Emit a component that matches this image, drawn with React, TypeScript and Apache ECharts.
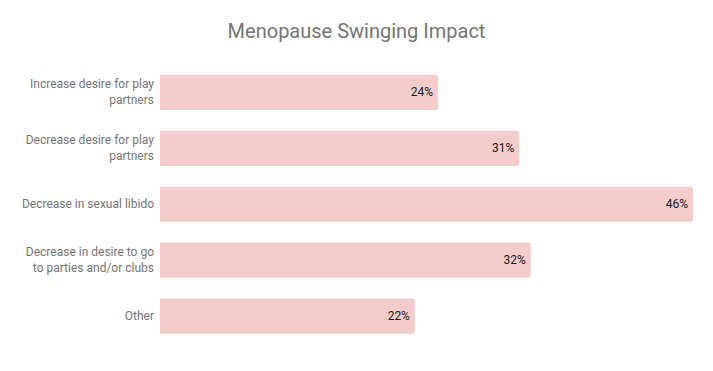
import React, { useEffect, useRef } from "react";
import * as echarts from "echarts";

const title = "Menopause Swinging Impact";
const categories = [
  "Increase desire for play\npartners",
  "Decrease desire for play\npartners",
  "Decrease in sexual libido",
  "Decrease in desire to go\nto parties and/or clubs",
  "Other",
];
const values = [24, 31, 46, 32, 22];

export default function App() {
  const ref = useRef<HTMLDivElement>(null);
  useEffect(() => {
    if (!ref.current) return;
    const chart = echarts.init(ref.current, null, { renderer: "svg" });
    chart.setOption({
      animation: false,
      backgroundColor: "#ffffff",
      textStyle: { fontFamily: "Roboto" },
      title: {
        text: title,
        left: "center",
        top: 21,
        padding: 0,
        textStyle: { fontFamily: "Roboto", fontSize: 20, fontWeight: "normal", color: "#757575" },
      },
      grid: { left: 160, right: 20, top: 64.5, bottom: 27, containLabel: false },
      xAxis: {
        type: "value",
        min: 0,
        max: 46,
        show: false,
      },
      yAxis: {
        type: "category",
        inverse: true,
        data: categories,
        axisLine: { show: false },
        axisTick: { show: false },
        axisLabel: {
          margin: 6,
          color: "#757575",
          fontFamily: "Roboto",
          fontSize: 12,
          lineHeight: 16,
          align: "right",
        },
      },
      series: [
        {
          type: "bar",
          data: values,
          barCategoryGap: "37%",
          itemStyle: { color: "#f4cccc", borderRadius: [0, 3, 3, 0] },
          label: {
            show: true,
            position: "insideRight",
            distance: 5,
            formatter: "{c}%",
            color: "#1a1a1a",
            fontFamily: "Roboto",
            fontSize: 12,
          },
        },
      ],
    });
    return () => chart.dispose();
  }, []);
  return (
    <div
      ref={ref}
      style={{ position: "absolute", left: 0, top: 0, width: 713, height: 371 }}
    />
  );
}
